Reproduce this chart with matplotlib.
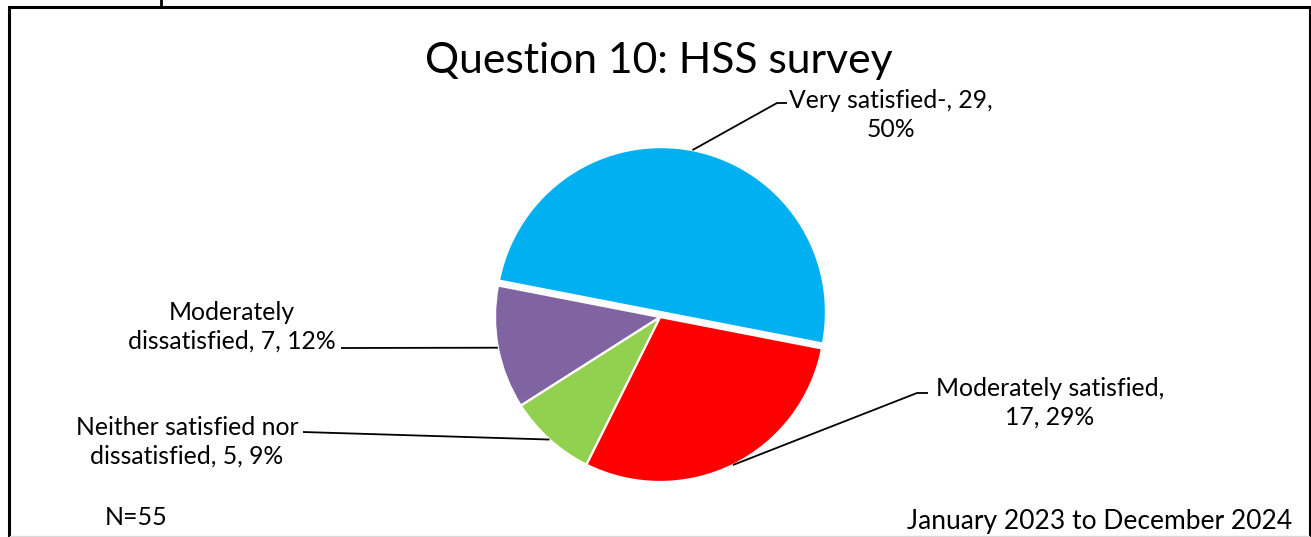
import math
import matplotlib
matplotlib.use("Agg")
import matplotlib.pyplot as plt

categories = ["Very satisfied-", "Moderately satisfied",
              "Neither satisfied nor dissatisfied", "Moderately dissatisfied"]
counts = [29, 17, 5, 7]
colors = ["#00B0F0", "#FF0000", "#92D050", "#8064A2"]
title = "Question 10: HSS survey"
sample_note = "N=55"
period_note = "January 2023 to December 2024"

W, H = 1311, 537
FONT = "Lato"
LINE_GAP = 32  # px between label lines

# words on the first line of each data label, and where the label sits (px, top-left origin)
first_line_words = [3, 2, 3, 1]
label_xy = [(891, 105), (1050, 393), (187, 432), (232, 317)]
elbows = [(777, 103), (917, 393), (303, 432), (341, 348)]
tails = [(787, 103), (928, 393), None, None]


def py(y):
    return H - y


fig = plt.figure(figsize=(W / 100, H / 100), dpi=100)
ax = fig.add_axes([0, 0, 1, 1])

total = sum(counts)
pcts = [round(c / total * 100) for c in counts]

radius = 165
wedges, _ = ax.pie(counts, colors=colors, startangle=169, counterclock=False,
                   radius=radius, center=(660, py(317)), explode=[5, 0, 0, 0],
                   wedgeprops=dict(edgecolor="white", linewidth=1.6), frame=True)

ax.set_xlim(0, W)
ax.set_ylim(0, H)
ax.set_aspect("auto")
ax.axis("off")

fs_label = 17.8
for w, cat, c, p, n, (lx, ly), el, tl in zip(wedges, categories, counts, pcts,
                                              first_line_words, label_xy, elbows, tails):
    words = f"{cat}, {c}, {p}%".split(" ")
    text = " ".join(words[:n]) + "\n" + " ".join(words[n:])
    # baseline alignment of a two-line text goes on the last line
    ax.text(lx, py(ly + LINE_GAP), text, ha="center", va="baseline", fontsize=fs_label,
            family=FONT, linespacing=LINE_GAP / (fs_label * 100 / 72))
    mid = math.radians((w.theta1 + w.theta2) / 2)
    cx, cy = w.center
    sx, sy = cx + w.r * math.cos(mid), cy + w.r * math.sin(mid)
    xs, ys = [sx, el[0]], [sy, py(el[1])]
    if tl is not None:
        xs.append(tl[0])
        ys.append(py(tl[1]))
    ax.plot(xs, ys, color="black", lw=1.3, solid_capstyle="butt")

ax.text(659, py(73), title, ha="center", va="baseline", fontsize=30.7, family=FONT)
ax.text(105, py(525), sample_note, ha="left", va="baseline", fontsize=18, family=FONT)
ax.text(1292, py(529), period_note, ha="right", va="baseline", fontsize=19, family=FONT)

# outer frame
ax.plot([8.5, 8.5, 1309.5, 1309.5], [0, py(7), py(7), 0], color="black", lw=2.2,
        solid_joinstyle="miter")
ax.plot([161, 161], [py(0), py(7)], color="black", lw=2)
ax.plot([10, 1309], [py(536), py(536)], color="#d9d9d9", lw=1)

fig.savefig("out.png", dpi=100)
